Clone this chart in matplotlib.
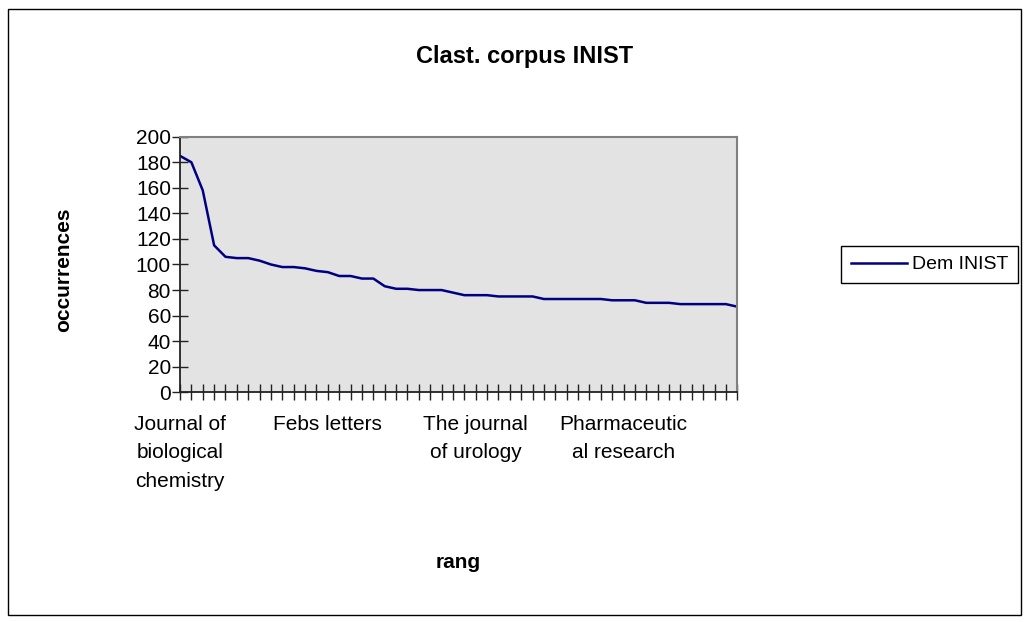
import matplotlib
matplotlib.use("Agg")
import matplotlib.pyplot as plt
from matplotlib.patches import Rectangle

plt.rcParams['font.family'] = ['Liberation Sans', 'DejaVu Sans']

# valeurs (50 revues, rang 1..50)
occurrences = [185, 180, 158, 115, 106, 105, 105, 103, 100, 98,
               98, 97, 95, 94, 91, 91, 89, 89, 83, 81,
               81, 80, 80, 80, 78, 76, 76, 76, 75, 75,
               75, 75, 73, 73, 73, 73, 73, 73, 72, 72,
               72, 70, 70, 70, 69, 69, 69, 69, 69, 67]
# seules les etiquettes affichees (une sur 13)
noms = ["Journal of\nbiological\nchemistry", "Febs letters",
        "The journal\nof urology", "Pharmaceutic\nal research"]
pas_etiquette = 13
serie = "Dem INIST"

rang = list(range(len(occurrences)))
etiquettes = [""] * len(occurrences)
for i, nom in enumerate(noms):
    etiquettes[i * pas_etiquette] = nom

fig = plt.figure(figsize=(10.26, 6.22), dpi=100)
ax = fig.add_axes([180/1026, 1-392.3/622, 557.3/1026, 255.6/622])
ax.set_facecolor("#e3e3e3")

ax.plot(rang, occurrences, color="#000080", lw=1.8, label=serie)

ax.set_xlim(0, len(occurrences)-1)
ax.set_ylim(0, 200)
ax.set_yticks(range(0, 201, 20))
ax.set_xticks(rang)
ax.set_xticklabels(etiquettes, linespacing=1.65)
ax.tick_params(axis="both", direction="inout", color="#222222", width=1, labelsize=15)
ax.tick_params(axis="x", length=12, pad=10)
ax.tick_params(axis="y", length=11, pad=1)

for s in ["top", "right"]:
    ax.spines[s].set_color("#808080")
    ax.spines[s].set_linewidth(1.5)
for s in ["left", "bottom"]:
    ax.spines[s].set_color("#222222")
    ax.spines[s].set_linewidth(1.3)

fig.text(525/1026, 1-56/622, "Clast. corpus INIST", ha="center", va="center",
         fontsize=17, fontweight="bold")
fig.text(64/1026, 1-270/622, "occurrences", ha="center", va="center",
         rotation=90, fontsize=15, fontweight="bold")
fig.text(458/1026, 1-562/622, "rang", ha="center", va="center",
         fontsize=15, fontweight="bold")

leg = ax.legend(loc="upper right", bbox_to_anchor=(1018/1026, 1-246/622),
                bbox_transform=fig.transFigure, borderaxespad=0, fancybox=False,
                edgecolor="black", framealpha=1, fontsize=14, handlelength=2.9,
                handletextpad=0.25, borderpad=0.5)
leg.get_frame().set_linewidth(1)

fig.patches.append(Rectangle((8/1026, 7/622), 1013/1026, 606/622, fill=False,
                             edgecolor="black", lw=1, transform=fig.transFigure))

plt.savefig("out.png", dpi=100)
